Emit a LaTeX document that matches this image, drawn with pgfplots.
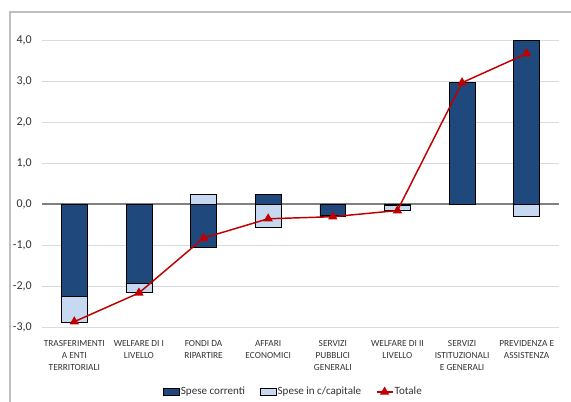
\documentclass[border=0pt]{standalone}
\usepackage{pgfplots}
\pgfplotsset{compat=1.18}
\usepackage{fontspec}
\setmainfont{Carlito}
\definecolor{darkbar}{HTML}{1F497D}
\definecolor{lightbar}{HTML}{C6D9F1}
\definecolor{tot}{HTML}{C00000}
\definecolor{gridc}{HTML}{D5DAE3}
\definecolor{framec}{HTML}{BFBFBF}
\definecolor{zeroc}{HTML}{808080}
\definecolor{txt}{HTML}{333333}
\pgfplotsset{
  barlegend/.style={legend image code/.code={\draw[##1] (0pt,-2.5pt) rectangle (12pt,2.5pt);}},
  linelegend/.style={legend image code/.code={\draw[##1, mark repeat=2, mark phase=2] plot coordinates {(0pt,0pt) (6pt,0pt) (12pt,0pt)};}},
}
\begin{document}
\begin{tikzpicture}
\useasboundingbox (0pt,0pt) rectangle (428.25pt,300.75pt);
\draw[framec, line width=1.1pt] (7.5pt,-2pt) -- (7.5pt,291.75pt) -- (430pt,291.75pt);
\begin{axis}[
  at={(31.5pt,55.5pt)}, anchor=south west,
  scale only axis, width=387.75pt, height=215.25pt,
  xmin=-0.5, xmax=7.5, ymin=-3, ymax=4,
  axis line style={draw=none},
  major tick length=0pt,
  xtick={0,1,2,3,4,5,6,7},
  xticklabels={{TRASFERIMENTI\\A ENTI\\TERRITORIALI},{WELFARE DI I\\LIVELLO},{FONDI DA\\RIPARTIRE},{AFFARI\\ECONOMICI},{SERVIZI\\PUBBLICI\\GENERALI},{WELFARE DI II\\LIVELLO},{SERVIZI\\ISTITUZIONALI\\E GENERALI},{PREVIDENZA E\\ASSISTENZA}},
  xticklabel style={font=\fontsize{7}{8.8}\selectfont, align=center, anchor=north, inner sep=0pt, yshift=-10pt, text=txt},
  ytick={-3,-2,-1,0,1,2,3,4},
  yticklabel style={font=\fontsize{9}{10}\selectfont, anchor=east, inner sep=0pt, xshift=-7.5pt, text=txt,
    /pgf/number format/.cd, fixed, fixed zerofill, precision=1, use comma, assume math mode=true},
  ymajorgrids, grid style={gridc, line width=0.75pt},
  extra y ticks={0}, extra y tick labels={},
  extra y tick style={grid style={zeroc, line width=1.1pt}},
  legend style={at={(axis description cs:0.4855,-0.2265)}, anchor=center, draw=none, fill=none,
    legend columns=3, font=\fontsize{8.3}{9.8}\selectfont, text=txt,
    /tikz/every even column/.append style={column sep=10pt},
    nodes={inner sep=1pt}},
]
\addplot[ybar, bar width=0.4, bar shift=0pt, fill=lightbar, draw=black, line width=0.5pt, forget plot]
  coordinates {(0,-2.88) (1,-2.16) (2,0.24) (3,-0.57) (4,-0.31) (5,-0.15) (6,0) (7,-0.30)};
\addplot[ybar, bar width=0.4, bar shift=0pt, fill=darkbar, draw=black, line width=0.5pt, barlegend]
  coordinates {(0,-2.25) (1,-1.93) (2,-1.05) (3,0.23) (4,-0.28) (5,-0.04) (6,2.97) (7,3.99)};
\addlegendentry{Spese correnti}
\addlegendimage{fill=lightbar, draw=black, line width=0.5pt, barlegend}
\addlegendentry{Spese in c/capitale}
\addplot[tot, line width=1.1pt, mark=triangle*, mark size=3pt, linelegend]
  coordinates {(0,-2.87) (1,-2.17) (2,-0.83) (3,-0.36) (4,-0.31) (5,-0.16) (6,2.96) (7,3.67)};
\addlegendentry{Totale}
\end{axis}
\end{tikzpicture}
\end{document}
